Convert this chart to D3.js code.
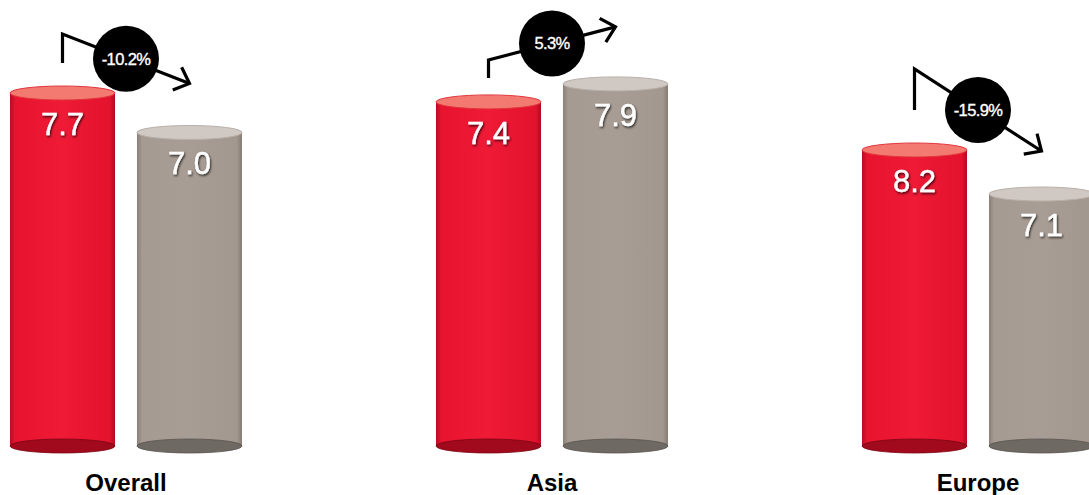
<!DOCTYPE html>
<html>
<head>
<meta charset="utf-8">
<script src="https://cdn.jsdelivr.net/npm/d3@7"></script>
<style>
  html, body { margin: 0; padding: 0; background: #fff; }
  svg { display: block; }
</style>
</head>
<body>
<svg id="chart" width="1089" height="495"></svg>
<script>
// ---- data ----
const categories = ["Overall", "Asia", "Europe"];
const series = ["before", "after"];
const beforeValues = [7.7, 7.4, 8.2];
const afterValues = [7.0, 7.9, 7.1];
const changeLabels = ["-10.2%", "5.3%", "-15.9%"];
// each panel is drawn on its own value axis in the original
const panelDomains = [[1.44, 8.64], [-2.16, 9.12], [0.8, 10.95]];

// ---- layout / styles ----
const W = 1089, H = 495;
const baseY = 446, topY = 40;
const barW = 105, ry = 7;
// annotation offsets per panel: [leg bottom above red top, corner y, tip above grey top]
const annotLayout = [
  { legGap: 30, cornerY: 34, tipGap: 49 },
  { legGap: 24, cornerY: 60, tipGap: 57 },
  { legGap: 40, cornerY: 69, tipGap: 43 }
];
const colors = {
  before: { body: ["#b80c22", "#e8142f", "#ee1a36", "#e3122d", "#b30a20"], top: "#f27a70", topEdge: "#e2353c", bottom: "#a00a1c", bottomEdge: "#7c0514" },
  after:  { body: ["#8a8079", "#a69b92", "#a89d94", "#a3988f", "#857b74"], top: "#d0c9c3", topEdge: "#b8afa8", bottom: "#6f6964", bottomEdge: "#59534f" }
};

const svg = d3.select("#chart");
const defs = svg.append("defs");

series.forEach(s => {
  const g = defs.append("linearGradient").attr("id", "body-" + s)
    .attr("x1", "0%").attr("x2", "100%").attr("y1", "0%").attr("y2", "0%");
  const stops = [0, 0.05, 0.5, 0.95, 1];
  colors[s].body.forEach((c, i) => g.append("stop").attr("offset", stops[i]).attr("stop-color", c));
});

const shadow = defs.append("filter").attr("id", "txtShadow")
  .attr("x", "-20%").attr("y", "-20%").attr("width", "140%").attr("height", "140%");
shadow.append("feDropShadow").attr("dx", 1).attr("dy", 1.5).attr("stdDeviation", 1.1)
  .attr("flood-color", "#000").attr("flood-opacity", 0.75);

const xGroup = d3.scalePoint().domain(categories).range([126, 978]);
const xInner = d3.scaleBand().domain(series).range([-116, 116]).paddingInner(0.173);

categories.forEach((cat, i) => {
  const y = d3.scaleLinear().domain(panelDomains[i]).range([baseY, topY]);
  const vals = { before: beforeValues[i], after: afterValues[i] };
  const gx = xGroup(cat);
  const g = svg.append("g").attr("transform", `translate(${gx},0)`);

  series.forEach(s => {
    const x0 = xInner(s);
    const cx = x0 + barW / 2;
    const yt = y(vals[s]);
    const c = colors[s];
    g.append("rect").attr("x", x0).attr("y", yt).attr("width", barW)
      .attr("height", baseY - yt).attr("fill", `url(#body-${s})`);
    g.append("ellipse").attr("cx", cx).attr("cy", baseY).attr("rx", barW / 2).attr("ry", ry)
      .attr("fill", c.bottom).attr("stroke", c.bottomEdge).attr("stroke-width", 0.8);
    g.append("ellipse").attr("cx", cx).attr("cy", yt).attr("rx", barW / 2).attr("ry", ry)
      .attr("fill", c.top).attr("stroke", c.topEdge).attr("stroke-width", 1);
    g.append("text").attr("x", cx).attr("y", yt + 42)
      .attr("text-anchor", "middle")
      .attr("font-family", "'Liberation Sans', Arial, Helvetica, sans-serif")
      .attr("font-size", 31).attr("fill", "#fff")
      .attr("stroke", "#fff").attr("stroke-width", 0.4)
      .attr("filter", "url(#txtShadow)")
      .text(d3.format(".1f")(vals[s]));
  });

  g.append("text").attr("x", 0).attr("y", 491).attr("text-anchor", "middle")
    .attr("font-family", "'Liberation Sans', Arial, Helvetica, sans-serif")
    .attr("font-weight", "bold").attr("font-size", 24).attr("fill", "#000")
    .text(cat);

  // change annotation
  const a = annotLayout[i];
  const sx = xInner("before") + barW / 2;
  const ex = xInner("after") + barW / 2;
  const legBottom = y(vals.before) - a.legGap;
  const tipY = y(vals.after) - a.tipGap;
  const cornerY = a.cornerY;
  g.append("path")
    .attr("d", d3.line()([[sx, legBottom], [sx, cornerY], [ex, tipY]]))
    .attr("fill", "none").attr("stroke", "#000").attr("stroke-width", 3.2)
    .attr("stroke-linejoin", "miter");
  const ang = Math.atan2(tipY - cornerY, ex - sx);
  const len = 18, spread = Math.PI / 4.2;
  const p1 = [ex - len * Math.cos(ang - spread), tipY - len * Math.sin(ang - spread)];
  const p2 = [ex - len * Math.cos(ang + spread), tipY - len * Math.sin(ang + spread)];
  g.append("path").attr("d", d3.line()([p1, [ex, tipY], p2]))
    .attr("fill", "none").attr("stroke", "#000").attr("stroke-width", 3.2)
    .attr("stroke-linejoin", "miter");
  const bx = (sx + ex) / 2, by = (cornerY + tipY) / 2;
  g.append("circle").attr("cx", bx).attr("cy", by).attr("r", 33).attr("fill", "#000");
  g.append("text").attr("x", bx).attr("y", by + 6).attr("text-anchor", "middle")
    .attr("font-family", "'Liberation Sans', Arial, Helvetica, sans-serif")
    .attr("font-size", 16.5).attr("letter-spacing", -0.6).attr("fill", "#fff")
    .attr("stroke", "#fff").attr("stroke-width", 0.35)
    .text(changeLabels[i]);
});
</script>
</body>
</html>
